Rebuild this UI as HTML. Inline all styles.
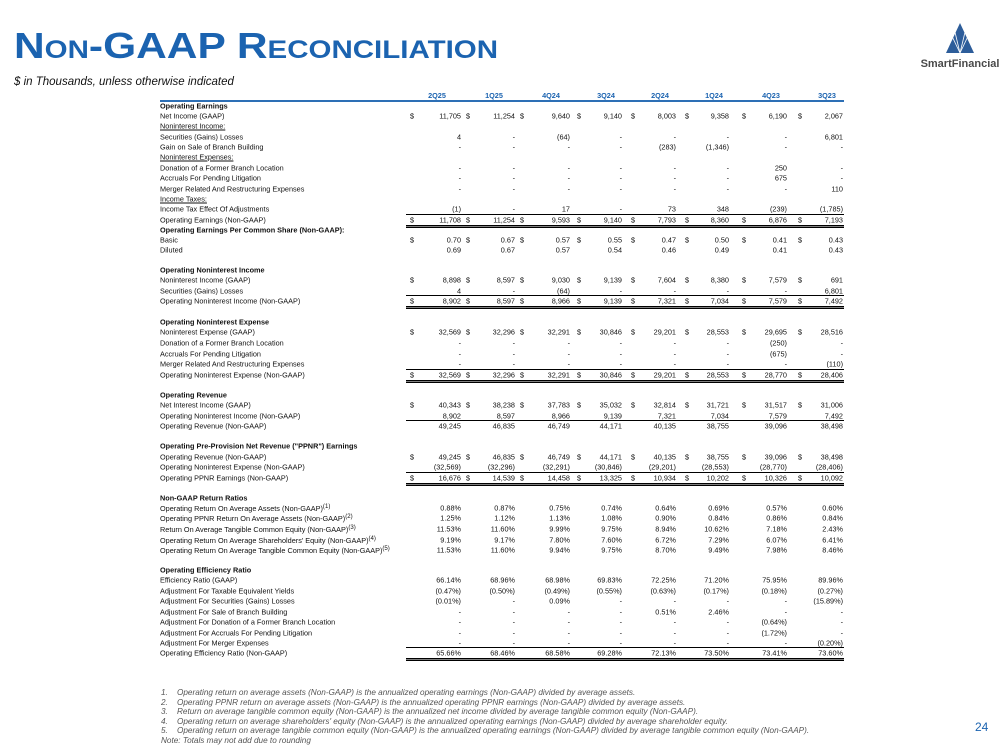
<!DOCTYPE html>
<html><head><meta charset="utf-8">
<style>
body{margin:0;width:999px;height:750px;background:#fff;position:relative;overflow:hidden;font-family:"Liberation Sans",sans-serif;}
.t{position:absolute;white-space:nowrap;}
#title{left:14px;top:25px;color:#1b63b0;font-weight:bold;font-size:36px;font-variant:small-caps;letter-spacing:0px;transform:scaleX(1.18);transform-origin:left;}
#sub{left:14px;top:76px;font-size:11.5px;font-style:italic;color:#111;}
.lab{left:160px;font-size:7.3px;color:#111;transform:translateY(-50%);font-family:"Liberation Sans Narrow","Liberation Sans",sans-serif;}
.lab.b{font-weight:bold;}
.lab.u{text-decoration:underline;}
.v{font-size:7.3px;color:#111;transform:translate(-100%,-50%);font-family:"Liberation Sans Narrow","Liberation Sans",sans-serif;}
.d{font-size:7.3px;color:#111;transform:translateY(-50%);font-family:"Liberation Sans Narrow","Liberation Sans",sans-serif;}
.hd{font-size:7.3px;font-weight:bold;color:#1b63b0;transform:translateX(-50%);top:91px;}
.ln{position:absolute;left:406px;width:438px;background:#000;}
.fn{font-size:8.2px;font-style:italic;color:#555;}
</style></head><body>
<div class="t" id="title">Non-GAAP Reconciliation</div>
<div class="t" id="sub">$ in Thousands, unless otherwise indicated</div>
<svg style="position:absolute;left:917px;top:20px" width="82" height="52">
<polygon points="43,3 29,33 57,33" fill="#2d5d9a"/>
<g stroke="#fff" stroke-width="0.8"><line x1="43" y1="33" x2="33" y2="12"/><line x1="43" y1="33" x2="53" y2="12"/><line x1="43" y1="33" x2="37" y2="8"/><line x1="43" y1="33" x2="49" y2="8"/></g>
<text x="43" y="47" text-anchor="middle" font-family="Liberation Sans" font-weight="bold" font-size="11" fill="#4a4a4a">SmartFinancial</text>
</svg>
<div class="ln" style="left:160px;width:684px;top:100px;height:1.5px;background:#2d6fb5"></div>
<div id="tbl"></div>
<div class="t" style="left:975px;top:720px;font-size:12px;color:#1b63b0">24</div>
<div id="fns"></div>
<script>
const periods=["2Q25","1Q25","4Q24","3Q24","2Q24","1Q24","4Q23","3Q23"];
const colX=[461,515,570,622,676,729,787,843];
const hdX=[437,494,551,606,660,714,771,827];
const dolX=[410,466,520,577,631,685,742,798];
const D="-";
const rows=[
["Operating Earnings",106,"b",0,null],
["Net Income (GAAP)",116,"",1,["11,705","11,254","9,640","9,140","8,003","9,358","6,190","2,067"]],
["Noninterest Income:",126,"u",0,null],
["Securities (Gains) Losses",137,"",0,["4",D,"(64)",D,D,D,D,"6,801"]],
["Gain on Sale of Branch Building",147,"",0,[D,D,D,D,"(283)","(1,346)",D,D]],
["Noninterest Expenses:",157,"u",0,null],
["Donation of a Former Branch Location",168,"",0,[D,D,D,D,D,D,"250",D]],
["Accruals For Pending Litigation",178,"",0,[D,D,D,D,D,D,"675",D]],
["Merger Related And Restructuring Expenses",189,"",0,[D,D,D,D,D,D,D,"110"]],
["Income Taxes:",199,"u",0,null],
["Income Tax Effect Of Adjustments",209,"",0,["(1)",D,"17",D,"73","348","(239)","(1,785)"]],
["Operating Earnings (Non-GAAP)",220,"tot",1,["11,708","11,254","9,593","9,140","7,793","8,360","6,876","7,193"]],
["Operating Earnings Per Common Share (Non-GAAP):",230,"b",0,null],
["Basic",240,"",1,["0.70","0.67","0.57","0.55","0.47","0.50","0.41","0.43"]],
["Diluted",250,"",0,["0.69","0.67","0.57","0.54","0.46","0.49","0.41","0.43"]],
["Operating Noninterest Income",270,"b",0,null],
["Noninterest Income (GAAP)",280,"",1,["8,898","8,597","9,030","9,139","7,604","8,380","7,579","691"]],
["Securities (Gains) Losses",291,"",0,["4",D,"(64)",D,D,D,D,"6,801"]],
["Operating Noninterest Income (Non-GAAP)",301,"tot",1,["8,902","8,597","8,966","9,139","7,321","7,034","7,579","7,492"]],
["Operating Noninterest Expense",322,"b",0,null],
["Noninterest Expense (GAAP)",332,"",1,["32,569","32,296","32,291","30,846","29,201","28,553","29,695","28,516"]],
["Donation of a Former Branch Location",343,"",0,[D,D,D,D,D,D,"(250)",D]],
["Accruals For Pending Litigation",354,"",0,[D,D,D,D,D,D,"(675)",D]],
["Merger Related And Restructuring Expenses",364,"",0,[D,D,D,D,D,D,D,"(110)"]],
["Operating Noninterest Expense (Non-GAAP)",375,"tot",1,["32,569","32,296","32,291","30,846","29,201","28,553","28,770","28,406"]],
["Operating Revenue",395,"b",0,null],
["Net Interest Income (GAAP)",405,"",1,["40,343","38,238","37,783","35,032","32,814","31,721","31,517","31,006"]],
["Operating Noninterest Income (Non-GAAP)",416,"",0,["8,902","8,597","8,966","9,139","7,321","7,034","7,579","7,492"]],
["Operating Revenue (Non-GAAP)",426,"sub",0,["49,245","46,835","46,749","44,171","40,135","38,755","39,096","38,498"]],
["Operating Pre-Provision Net Revenue  (\"PPNR\") Earnings",446,"b",0,null],
["Operating Revenue (Non-GAAP)",457,"",1,["49,245","46,835","46,749","44,171","40,135","38,755","39,096","38,498"]],
["Operating Noninterest Expense (Non-GAAP)",467,"",0,["(32,569)","(32,296)","(32,291)","(30,846)","(29,201)","(28,553)","(28,770)","(28,406)"]],
["Operating PPNR Earnings (Non-GAAP)",478,"tot",1,["16,676","14,539","14,458","13,325","10,934","10,202","10,326","10,092"]],
["Non-GAAP Return Ratios",498,"b",0,null],
["Operating Return On Average Assets (Non-GAAP)<sup>(1)</sup>",508,"",0,["0.88%","0.87%","0.75%","0.74%","0.64%","0.69%","0.57%","0.60%"]],
["Operating PPNR Return On Average Assets (Non-GAAP)<sup>(2)</sup>",518,"",0,["1.25%","1.12%","1.13%","1.08%","0.90%","0.84%","0.86%","0.84%"]],
["Return On Average Tangible Common Equity (Non-GAAP)<sup>(3)</sup>",529,"",0,["11.53%","11.60%","9.99%","9.75%","8.94%","10.62%","7.18%","2.43%"]],
["Operating Return On Average Shareholders' Equity (Non-GAAP)<sup>(4)</sup>",540,"",0,["9.19%","9.17%","7.80%","7.60%","6.72%","7.29%","6.07%","6.41%"]],
["Operating Return On Average Tangible Common Equity (Non-GAAP)<sup>(5)</sup>",550,"",0,["11.53%","11.60%","9.94%","9.75%","8.70%","9.49%","7.98%","8.46%"]],
["Operating Efficiency Ratio",570,"b",0,null],
["Efficiency Ratio (GAAP)",580,"",0,["66.14%","68.96%","68.98%","69.83%","72.25%","71.20%","75.95%","89.96%"]],
["Adjustment For Taxable Equivalent Yields",591,"",0,["(0.47%)","(0.50%)","(0.49%)","(0.55%)","(0.63%)","(0.17%)","(0.18%)","(0.27%)"]],
["Adjustment For Securities (Gains) Losses",601,"",0,["(0.01%)",D,"0.09%",D,D,D,D,"(15.89%)"]],
["Adjustment For Sale of Branch Building",612,"",0,[D,D,D,D,"0.51%","2.46%",D,D]],
["Adjustment For Donation of a Former Branch Location",622,"",0,[D,D,D,D,D,D,"(0.64%)",D]],
["Adjustment For Accruals For Pending Litigation",633,"",0,[D,D,D,D,D,D,"(1.72%)",D]],
["Adjustment For Merger Expenses",643,"",0,[D,D,D,D,D,D,D,"(0.20%)"]],
["Operating Efficiency Ratio (Non-GAAP)",653,"tot",0,["65.66%","68.46%","68.58%","69.28%","72.13%","73.50%","73.41%","73.60%"]]
];
const notes=["Operating return on average assets (Non-GAAP) is the annualized operating earnings (Non-GAAP) divided by average assets.",
"Operating PPNR return on average assets (Non-GAAP) is the annualized operating PPNR earnings (Non-GAAP) divided by average assets.",
"Return on average tangible common equity (Non-GAAP) is the annualized net income divided by average tangible common equity (Non-GAAP).",
"Operating return on average shareholders' equity (Non-GAAP) is the annualized operating earnings (Non-GAAP) divided by average shareholder equity.",
"Operating return on average tangible common equity (Non-GAAP) is the annualized operating earnings (Non-GAAP) divided by average tangible common equity (Non-GAAP)."];
const T=document.getElementById('tbl');
function mk(cls,html,x,y){const e=document.createElement('div');e.className='t '+cls;e.innerHTML=html;e.style.left=x+'px';e.style.top=y+'px';T.appendChild(e);return e;}
periods.forEach((p,i)=>{const e=mk('hd',p,hdX[i],91);

});
rows.forEach((r,ri)=>{
 const [lab,y,st,dol,vals]=r;
 const cls='lab'+(st==='b'?' b':'')+(st==='u'?' u':'');
 const l=mk(cls,lab,160,y);
 
 
 if(vals){vals.forEach((v,i)=>{const e=mk('v',v,colX[i],y);
  
  });}
 if(dol){dolX.forEach(x=>{const e=mk('d','$',x,y);
  
  });}
 if(st==='tot'||st==='sub'){const a=document.createElement('div');a.className='ln';a.style.top=(y-6)+'px';a.style.height='0.8px';T.appendChild(a);
  
  }
 if(st==='tot'){const b=document.createElement('div');b.className='ln';b.style.top=(y+5)+'px';b.style.height='3px';b.style.background='linear-gradient(#000 0,#000 33%,#fff 33%,#fff 55%,#000 55%)';T.appendChild(b);
  
  }
});
const F=document.getElementById('fns');
notes.forEach((n,i)=>{const y=688+i*9.6;
 const a=document.createElement('div');a.className='t fn';a.style.left='161px';a.style.top=y+'px';a.textContent=(i+1)+'.';F.appendChild(a);
 
 
 const b=document.createElement('div');b.className='t fn';b.style.left='177px';b.style.top=y+'px';b.textContent=n;F.appendChild(b);
 
 });
const nt=document.createElement('div');nt.className='t fn';nt.style.left='161px';nt.style.top='736px';nt.textContent='Note: Totals may not add due to rounding';F.appendChild(nt);


</script>
</body></html>
